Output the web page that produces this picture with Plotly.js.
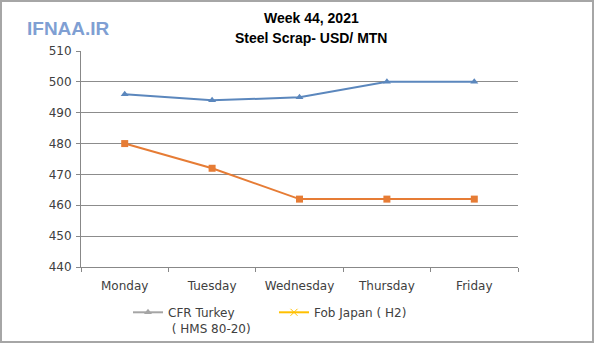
<!DOCTYPE html>
<html>
<head>
<meta charset="utf-8">
<script src="https://cdn.plot.ly/plotly-3.0.1.min.js"></script>
<style>
html,body{margin:0;padding:0;background:#fff;}
#wrap{position:relative;width:600px;height:344px;}
#chart{position:absolute;left:0;top:0;width:600px;height:344px;}
#frame{position:absolute;left:0;top:0;width:590px;height:339px;border:2px solid #a6a6a6;pointer-events:none;}
</style>
</head>
<body>
<div id="wrap"><div id="chart"></div><div id="frame"></div></div>
<script>
const days = ["Monday", "Tuesday", "Wednesday", "Thursday", "Friday"];
const cfrTurkey = [496, 494, 495, 500, 500];
const fobJapan = [480, 472, 462, 462, 462];
const seriesNames = ["CFR Turkey<br> ( HMS 80-20)", "Fob Japan ( H2)"];
const yTicks = [440, 450, 460, 470, 480, 490, 500, 510];
const titleLines = ["Week 44, 2021", "Steel Scrap- USD/ MTN"];

const font = "Verdana, 'DejaVu Sans', sans-serif";

const traces = [
  {x: days, y: cfrTurkey, type: "scatter", mode: "lines+markers", showlegend: false,
   line: {color: "#5b87bd", width: 2}, marker: {symbol: "triangle-up", size: 7, color: "#5b87bd"}},
  {x: days, y: fobJapan, type: "scatter", mode: "lines+markers", showlegend: false,
   line: {color: "#e67c35", width: 2}, marker: {symbol: "square", size: 7, color: "#e67c35"}},
  {x: [days[0]], y: [null], type: "scatter", mode: "lines+markers", name: seriesNames[0],
   line: {color: "#a5a5a5", width: 2}, marker: {symbol: "triangle-up", size: 7, color: "#a5a5a5"}},
  {x: [days[0]], y: [null], type: "scatter", mode: "lines+markers", name: seriesNames[1],
   line: {color: "#ffc000", width: 2}, marker: {symbol: "x-thin-open", size: 7, color: "#ffc000", line: {color: "#ffc000", width: 1}}}
];

const plotL = 81, plotR = 518, plotT = 51, plotB = 267;
const pw = plotR - plotL, ph = plotB - plotT;
const px = v => (v - plotL) / pw;
const py = v => (plotB - v) / ph;

const layout = {
  width: 600, height: 344,
  margin: {l: plotL, r: 600 - plotR, t: plotT, b: 344 - plotB, pad: 0},
  paper_bgcolor: "#fff", plot_bgcolor: "#fff",
  font: {family: font, size: 12, color: "#404040"},
  xaxis: {type: "category", range: [-0.5, 4.5], showgrid: false, showline: true, linecolor: "#888", linewidth: 1,
          ticks: "outside", tickson: "boundaries", ticklen: 4, tickcolor: "#888", fixedrange: true,
          ticklabelstandoff: 8,
          tickfont: {family: font, size: 12, color: "#404040"}},
  yaxis: {range: [440, 510], tickvals: yTicks, showgrid: true, gridcolor: "#8c8c8c", gridwidth: 1,
          showline: true, linecolor: "#888", linewidth: 1, ticks: "outside", ticklen: 4, tickcolor: "#888",
          ticklabelstandoff: 2,
          zeroline: false, fixedrange: true, tickfont: {family: font, size: 12, color: "#404040"}},
  legend: {orientation: "h", x: 128/600, xref: "container", y: 1 - 298/344, yref: "container", yanchor: "top", xanchor: "left",
           font: {family: font, size: 12, color: "#404040"}, itemwidth: 30, traceorder: "normal", bgcolor: "rgba(0,0,0,0)",
           entrywidth: 101, entrywidthmode: "pixels", valign: "top"},
  annotations: [
    {text: "<b>IFNAA.IR</b>", xref: "paper", yref: "paper", x: px(25), y: py(28), xanchor: "left", yanchor: "middle",
     showarrow: false, font: {family: "'Liberation Sans', Arial, sans-serif", size: 19, color: "#7f9fd3"}},
    {text: "<b>" + titleLines[0] + "</b>", xref: "paper", yref: "paper", x: px(311), y: py(18), xanchor: "center", yanchor: "middle",
     showarrow: false, font: {family: "'Liberation Sans', Arial, sans-serif", size: 14, color: "#000"}},
    {text: "<b>" + titleLines[1] + "</b>", xref: "paper", yref: "paper", x: px(311), y: py(38), xanchor: "center", yanchor: "middle",
     showarrow: false, font: {family: "'Liberation Sans', Arial, sans-serif", size: 14, color: "#000"}}
  ]
};

Plotly.newPlot("chart", traces, layout, {displayModeBar: false, staticPlot: true});
</script>
</body>
</html>
